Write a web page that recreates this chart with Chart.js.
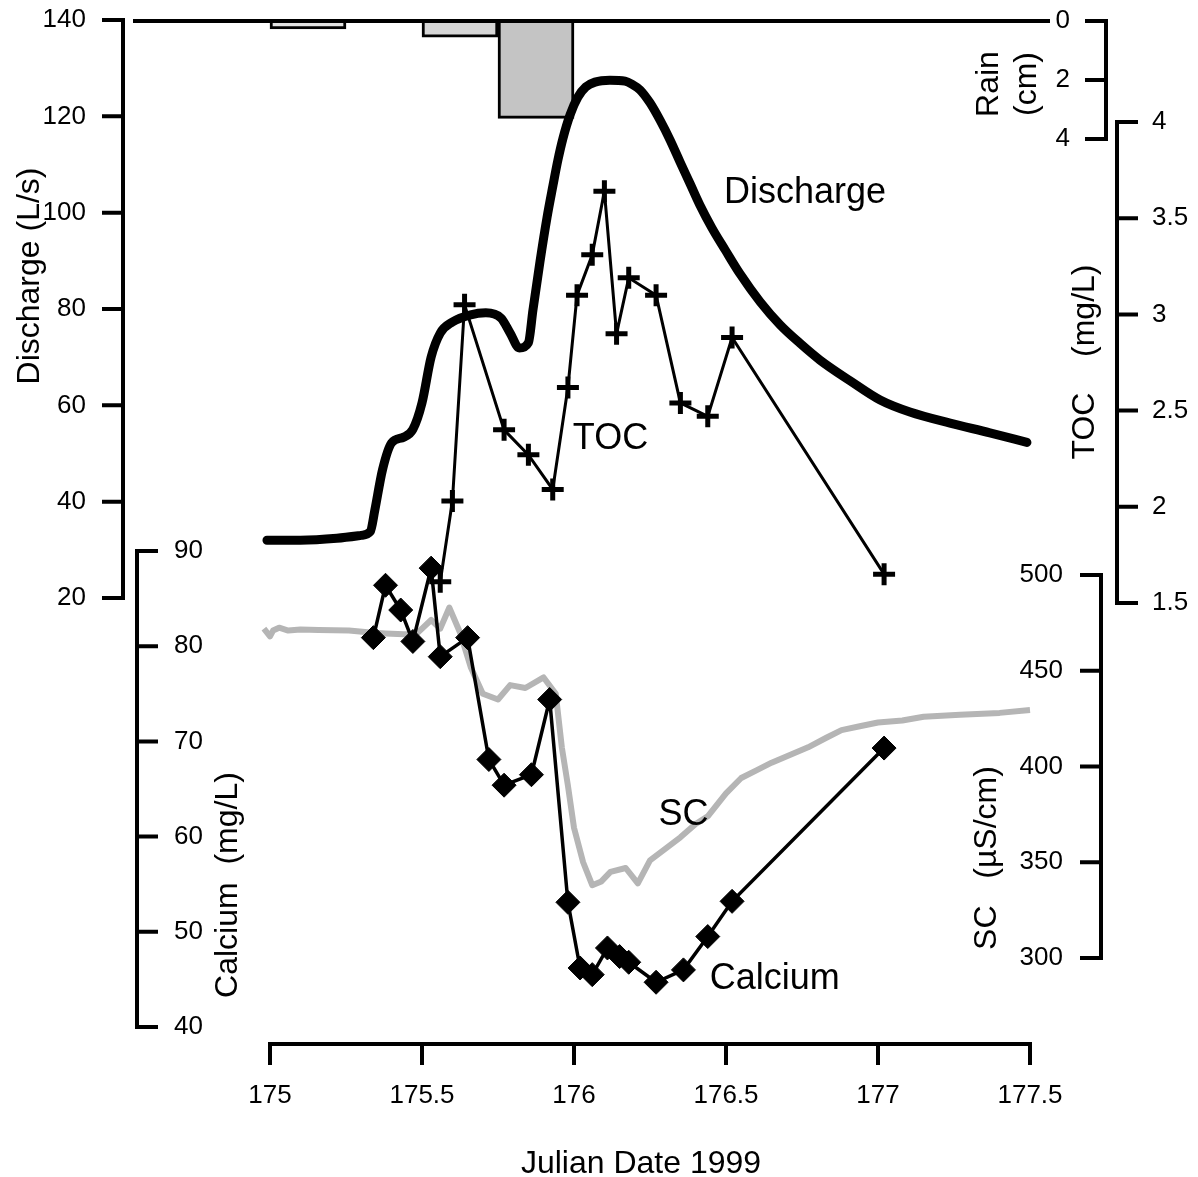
<!DOCTYPE html>
<html>
<head>
<meta charset="utf-8">
<script src="https://cdn.jsdelivr.net/npm/chart.js@4.4.1/dist/chart.umd.min.js"></script>
<style>
  html, body { margin: 0; padding: 0; background: #fff; }
  #wrap { width: 1198px; height: 1177px; position: relative; }
</style>
</head>
<body>
<div id="wrap"><canvas id="chart"></canvas></div>
<script>
// Julian date ticks and axis ticks
const dateTicks = [175, 175.5, 176, 176.5, 177, 177.5];
const dischargeTicks = [20, 40, 60, 80, 100, 120, 140];
const rainTicks = [0, 2, 4];
const tocTicks = [1.5, 2, 2.5, 3, 3.5, 4];
const scTicks = [300, 350, 400, 450, 500];
const calciumTicks = [40, 50, 60, 70, 80, 90];

// Rain (cm), one bar per quarter day
const rainDates = [175.125, 175.625, 175.875];
const rainCm = [0.27, 0.55, 3.3];

// Discharge (L/s)
const dischargeDates = [174.99, 175.10, 175.22, 175.30, 175.33, 175.345, 175.37, 175.40, 175.44, 175.47,
  175.50, 175.53, 175.56, 175.60, 175.66, 175.71, 175.76, 175.79, 175.82, 175.85,
  175.865, 175.888, 175.911, 175.931, 175.947, 175.964, 175.987, 176.013, 176.039, 176.069,
  176.118, 176.168, 176.19, 176.217, 176.25, 176.283, 176.316, 176.349, 176.382, 176.414,
  176.454, 176.497, 176.546, 176.612, 176.678, 176.743, 176.809, 176.908, 177.007, 177.105,
  177.237, 177.368, 177.49];
const dischargeValues = [32, 32, 32.4, 33, 33.8, 38.3, 46.6, 52.2, 53.4, 55,
  60.5, 70, 75, 77.3, 78.8, 79.2, 78.1, 75, 71.9, 73,
  79.8, 89.8, 98.9, 105.7, 110.9, 115.5, 120.3, 124.0, 126.1, 127.1,
  127.5, 127.3, 126.7, 125.5, 122.8, 119.2, 115.1, 110.5, 106, 101.6,
  96.8, 92.3, 87.3, 81.5, 76.7, 72.9, 69.4, 65.1, 61.1, 58.6,
  56.3, 54.3, 52.3];

// TOC (mg/L)
const tocDates = [175.56, 175.60, 175.64, 175.77, 175.85, 175.93, 175.98, 176.01, 176.06, 176.10,
  176.14, 176.18, 176.27, 176.35, 176.44, 176.52, 177.02];
const tocValues = [1.61, 2.03, 3.05, 2.40, 2.27, 2.09, 2.62, 3.10, 3.31, 3.64,
  2.90, 3.19, 3.10, 2.54, 2.47, 2.88, 1.65];

// Calcium (mg/L)
const calciumDates = [175.34, 175.38, 175.43, 175.47, 175.53, 175.56, 175.65, 175.72, 175.77, 175.86,
  175.92, 175.98, 176.02, 176.06, 176.11, 176.15, 176.18, 176.27, 176.36, 176.44,
  176.52, 177.02];
const calciumValues = [80.9, 86.4, 83.8, 80.5, 88.2, 78.9, 80.9, 68.1, 65.4, 66.5,
  74.4, 53.1, 46.2, 45.5, 48.3, 47.4, 46.8, 44.7, 46.0, 49.5,
  53.2, 69.3];

// Specific conductance (uS/cm)
const scDates = [174.98, 175.0, 175.01, 175.03, 175.06, 175.10, 175.16, 175.26, 175.33, 175.38, 175.44,
  175.48, 175.53, 175.56, 175.59, 175.625, 175.66, 175.70, 175.75, 175.79, 175.84,
  175.90, 175.94, 175.96, 175.98, 176.00, 176.03, 176.06, 176.09, 176.12, 176.17,
  176.21, 176.25, 176.30, 176.35, 176.40, 176.44, 176.50, 176.55, 176.60, 176.65,
  176.71, 176.77, 176.83, 176.88, 176.94, 177.00, 177.08, 177.15, 177.27, 177.40, 177.50];
const scValues = [472, 468, 471, 472.5, 471, 471.5, 471.3, 471, 470, 469.5, 469,
  469, 476.5, 472, 483, 470, 452, 438, 435, 442.5, 441,
  446.5, 438, 410, 390, 368, 350, 338, 340, 345, 347,
  339, 351, 357, 363, 370, 374, 386, 394, 398, 402,
  406, 410, 415, 419, 421, 423, 424, 426, 427, 428, 429.5];

// in-plot series labels (data coordinates)
const seriesLabels = [
  { text: 'Discharge', axis: 'yQ', x: 176.76, y: 104 },
  { text: 'TOC', axis: 'yT', x: 176.12, y: 2.35 },
  { text: 'SC', axis: 'yS', x: 176.36, y: 374.5 },
  { text: 'Calcium', axis: 'yC', x: 176.66, y: 45 }
];

const FONT = '"Liberation Sans", Arial, Helvetica, sans-serif';
const TOP = 20, BOTTOM = 1044, LEFT = 270, RIGHT = 1030;

// scale range that puts value v1 at pixel p1 and v2 at pixel p2 over the full plot height
function range(v1, p1, v2, p2) {
  const k = (p2 - p1) / (v2 - v1);
  const vTop = v1 + (TOP - p1) / k;
  const vBottom = v1 + (BOTTOM - p1) / k;
  return { min: Math.min(vTop, vBottom), max: Math.max(vTop, vBottom), reverse: vTop < vBottom };
}

function yScale(r) {
  return { type: 'linear', display: false, min: r.min, max: r.max, reverse: r.reverse, bounds: 'data' };
}

const pts = (xs, ys) => xs.map((x, i) => ({ x, y: ys[i] }));

// how each visible axis is drawn
const verticalAxes = [
  { id: 'yQ', x: 123, ticks: dischargeTicks, side: 'left', labelX: 86, align: 'right',
    title: ['Discharge (L/s)'], titleX: [30], titleY: 276 },
  { id: 'yR', x: 1106, ticks: rainTicks, side: 'left', labelX: 1070, align: 'right',
    title: ['Rain', '(cm)'], titleX: [989, 1027], titleY: 84 },
  { id: 'yT', x: 1117, ticks: tocTicks, side: 'right', labelX: 1152, align: 'left',
    title: ['TOC    (mg/L)'], titleX: [1085], titleY: 362 },
  { id: 'yS', x: 1101, ticks: scTicks, side: 'left', labelX: 1063, align: 'right',
    title: ['SC   (\u00b5S/cm)'], titleX: [987], titleY: 858 },
  { id: 'yC', x: 137, ticks: calciumTicks, side: 'right', labelX: 174, align: 'left',
    title: ['Calcium  (mg/L)'], titleX: [228], titleY: 885 }
];

const paperAxes = {
  id: 'paperAxes',
  afterDatasetsDraw(chart) {
    const ctx = chart.ctx;
    const TICK = 21;
    ctx.save();
    ctx.strokeStyle = '#000';
    ctx.fillStyle = '#000';
    ctx.lineWidth = 4;
    ctx.lineCap = 'butt';

    // rain zero line across the top
    const rainZero = chart.scales.yR.getPixelForValue(0);
    ctx.beginPath();
    ctx.moveTo(133, rainZero);
    ctx.lineTo(1050, rainZero);
    ctx.stroke();

    verticalAxes.forEach(ax => {
      const scale = chart.scales[ax.id];
      const ys = ax.ticks.map(v => scale.getPixelForValue(v));
      const dir = ax.side === 'left' ? -1 : 1;
      ctx.beginPath();
      ctx.moveTo(ax.x, Math.min(...ys) - 2);
      ctx.lineTo(ax.x, Math.max(...ys) + 2);
      ys.forEach(y => {
        ctx.moveTo(ax.x, y);
        ctx.lineTo(ax.x + dir * TICK, y);
      });
      ctx.stroke();

      ctx.font = '26px ' + FONT;
      ctx.textAlign = ax.align;
      ctx.textBaseline = 'middle';
      ax.ticks.forEach((v, i) => ctx.fillText(String(v), ax.labelX, ys[i]));

      ctx.font = '32px ' + FONT;
      ctx.textAlign = 'center';
      ax.title.forEach((t, i) => {
        ctx.save();
        ctx.translate(ax.titleX[i], ax.titleY);
        ctx.rotate(-Math.PI / 2);
        ctx.fillText(t, 0, 0);
        ctx.restore();
      });
    });

    // date axis along the bottom
    const xs = chart.scales.x;
    const px = dateTicks.map(v => xs.getPixelForValue(v));
    ctx.beginPath();
    ctx.moveTo(px[0], BOTTOM);
    ctx.lineTo(px[px.length - 1], BOTTOM);
    px.forEach(p => {
      ctx.moveTo(p, BOTTOM - 2);
      ctx.lineTo(p, BOTTOM + 21);
    });
    ctx.stroke();
    ctx.font = '26px ' + FONT;
    ctx.textAlign = 'center';
    ctx.textBaseline = 'middle';
    dateTicks.forEach((v, i) => ctx.fillText(String(v), px[i], 1096));
    ctx.font = '32px ' + FONT;
    ctx.fillText('Julian Date 1999', 641, 1164);

    // series labels
    ctx.font = '36px ' + FONT;
    seriesLabels.forEach(l => {
      ctx.fillText(l.text, xs.getPixelForValue(l.x), chart.scales[l.axis].getPixelForValue(l.y));
    });
    ctx.restore();
  }
};

new Chart(document.getElementById('chart'), {
  type: 'line',
  data: {
    datasets: [
      {
        type: 'bar',
        data: pts(rainDates, rainCm),
        yAxisID: 'yR',
        backgroundColor: ['#e2e2e2', '#d6d6d6', '#c4c4c4'],
        borderColor: '#000',
        borderWidth: 3,
        barPercentage: 1,
        categoryPercentage: 1,
        order: 5
      },
      {
        data: pts(dischargeDates, dischargeValues),
        yAxisID: 'yQ',
        borderColor: '#000',
        borderWidth: 9,
        cubicInterpolationMode: 'monotone',
        borderCapStyle: 'round',
        borderJoinStyle: 'round',
        pointRadius: 0,
        order: 4
      },
      {
        data: pts(scDates, scValues),
        yAxisID: 'yS',
        borderColor: '#b5b5b5',
        borderWidth: 6,
        tension: 0,
        borderJoinStyle: 'round',
        pointRadius: 0,
        order: 3
      },
      {
        data: pts(tocDates, tocValues),
        yAxisID: 'yT',
        borderColor: '#000',
        borderWidth: 3,
        tension: 0,
        pointStyle: 'cross',
        pointRadius: 11,
        pointBorderWidth: 5,
        pointBorderColor: '#000',
        order: 2
      },
      {
        data: pts(calciumDates, calciumValues),
        yAxisID: 'yC',
        borderColor: '#000',
        borderWidth: 3.5,
        tension: 0,
        pointStyle: 'rectRot',
        pointRadius: 12,
        pointBackgroundColor: '#000',
        pointBorderColor: '#000',
        pointBorderWidth: 1,
        order: 1
      }
    ]
  },
  options: {
    responsive: true,
    maintainAspectRatio: false,
    animation: false,
    devicePixelRatio: 1,
    layout: { padding: { left: LEFT, right: 1198 - RIGHT, top: TOP, bottom: 1177 - BOTTOM } },
    plugins: { legend: { display: false }, tooltip: { enabled: false } },
    elements: { line: { fill: false } },
    datasets: { line: { clip: false }, bar: { clip: false } },
    scales: {
      x: { type: 'linear', display: false, min: 175, max: 177.5, offset: false, bounds: 'data',
           ticks: { stepSize: 0.5 } },
      yQ: yScale(range(20, 598, 140, 20)),
      yR: yScale(range(0, 21, 4, 139)),
      yT: yScale(range(1.5, 603, 4, 122)),
      yS: yScale(range(300, 958, 500, 575)),
      yC: yScale(range(40, 1027, 90, 551))
    }
  },
  plugins: [paperAxes]
});
</script>
</body>
</html>
